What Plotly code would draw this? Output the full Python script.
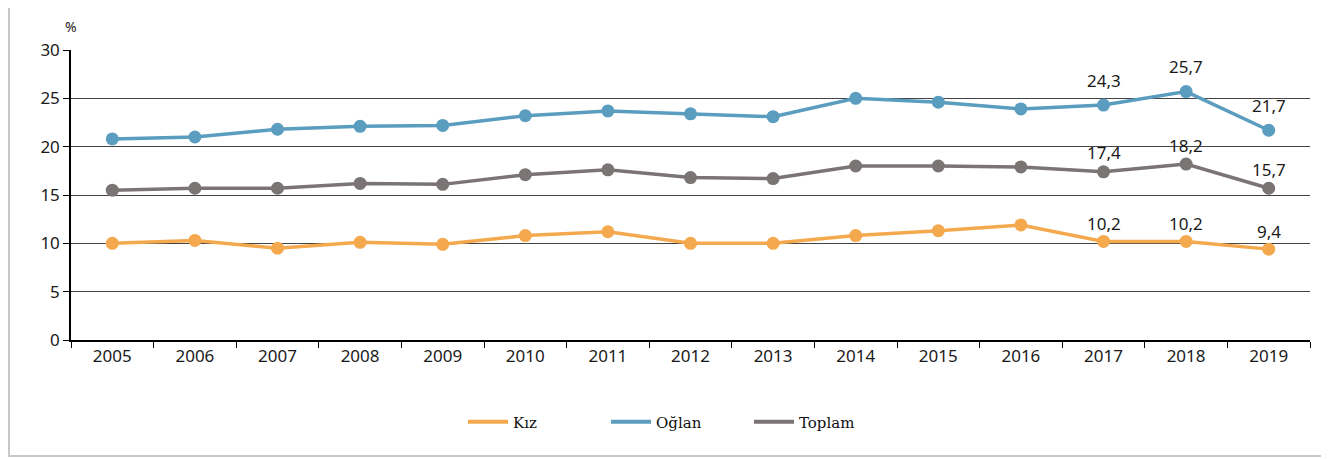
import plotly.graph_objects as go

years = [str(y) for y in range(2005, 2020)]
kiz = [10.0, 10.3, 9.5, 10.1, 9.9, 10.8, 11.2, 10.0, 10.0, 10.8, 11.3, 11.9, 10.2, 10.2, 9.4]
oglan = [20.8, 21.0, 21.8, 22.1, 22.2, 23.2, 23.7, 23.4, 23.1, 25.0, 24.6, 23.9, 24.3, 25.7, 21.7]
toplam = [15.5, 15.7, 15.7, 16.2, 16.1, 17.1, 17.6, 16.8, 16.7, 18.0, 18.0, 17.9, 17.4, 18.2, 15.7]

# name, values, colour, label offset above the point (px)
series = [
    ("Kız", kiz, "#F5A94E", 18),
    ("Oğlan", oglan, "#5A9DBE", 25),
    ("Toplam", toplam, "#7A7574", 19),
]

fig = go.Figure()
annotations = []
for name, values, color, shift in series:
    fig.add_trace(go.Scatter(
        x=years, y=values, name=name, showlegend=False,
        mode="lines+markers",
        line=dict(color=color, width=3.5),
        marker=dict(color=color, size=13),
        cliponaxis=False,
    ))
    # only the last three years carry a value label
    # (category index is used, year strings would be read as numbers)
    for i in range(len(values) - 3, len(values)):
        annotations.append(dict(
            x=i, y=values[i], yshift=shift, text=f"{values[i]:.1f}".replace(".", ","),
            showarrow=False, xanchor="center", yanchor="middle",
            font=dict(family="Noto Sans", size=17, color="#1a1a1a"),
        ))
# legend entries show a plain line, as in the original
for name, values, color, _ in series:
    fig.add_trace(go.Scatter(
        x=[None], y=[None], name=name, mode="lines",
        line=dict(color=color, width=4),
    ))

# the page body adds an 8px offset, so the figure is 16px smaller
W, H = 1321, 452
L, T = 63, 42
pw, ph = 1239, 290
R, B = W - L - pw, H - T - ph

annotations.append(dict(
    text="%", xref="paper", yref="paper", x=0, y=1 + 23 / ph,
    xanchor="center", yanchor="middle", showarrow=False,
    font=dict(family="Noto Sans", size=14, color="#1a1a1a"),
))

fig.update_layout(
    width=W, height=H,
    margin=dict(l=L, r=R, t=T, b=B, autoexpand=False),
    paper_bgcolor="white", plot_bgcolor="white",
    font=dict(family="Noto Sans", size=17, color="#1a1a1a"),
    showlegend=True,
    legend=dict(
        orientation="h", x=(463 - 8 - L) / pw, xanchor="left", y=-82 / ph, yanchor="middle",
        font=dict(family="DejaVu Serif", size=15, color="#111"),
        itemwidth=40, entrywidth=88, tracegroupgap=0,
    ),
    xaxis=dict(
        type="category", range=[-0.5, 14.5], showline=True, linecolor="black", linewidth=1.5,
        ticks="outside", tickson="boundaries", ticklen=6, tickcolor="black",
        showgrid=False, tickfont=dict(size=17),
    ),
    yaxis=dict(
        range=[0, 30], dtick=5, showline=True, linecolor="black", linewidth=1.5,
        ticks="outside", ticklen=6, tickcolor="black",
        showgrid=True, gridcolor="#444", gridwidth=1, zeroline=False,
        tickfont=dict(size=17),
    ),
    annotations=annotations,
    shapes=[dict(
        type="rect", xref="paper", yref="paper", layer="below",
        x0=(1 - L) / pw, x1=(1318 - L) / pw, y0=-(448 - T - ph) / ph, y1=1 + 60 / ph,
        line=dict(color="#c8c8c8", width=2),
    )],
)

fig.write_html("out.html")
